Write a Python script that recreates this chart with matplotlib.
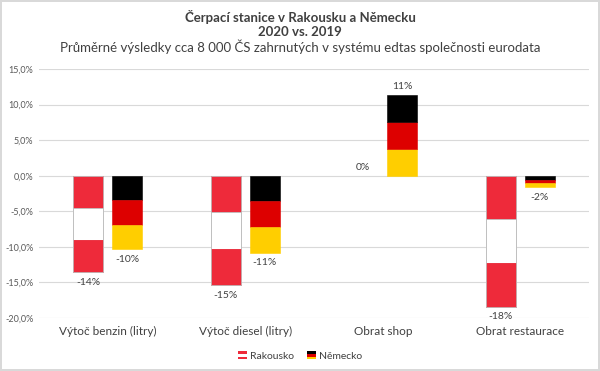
import matplotlib
matplotlib.use("Agg")
import matplotlib.pyplot as plt
from matplotlib.patches import Rectangle
from matplotlib.legend_handler import HandlerBase
from matplotlib.ticker import FuncFormatter
import numpy as np

plt.rcParams["font.family"] = ["Lato", "DejaVu Sans"]

# -----------------------------------------------------------------------------
# data
# -----------------------------------------------------------------------------
categories = ["Výtoč benzin (litry)", "Výtoč diesel (litry)", "Obrat shop", "Obrat restaurace"]
rakousko = [-13.6, -15.4, 0.0, -18.4]
nemecko = [-10.3, -10.8, 11.3, -1.6]
labels_at = ["-14%", "-15%", "0%", "-18%"]
labels_de = ["-10%", "-11%", "11%", "-2%"]

AT_RED = "#EE2A3A"
DE_BLACK = "#000000"
DE_RED = "#DD0000"
DE_GOLD = "#FFCE00"
GRID = "#D9D9D9"
TXT = "#404040"

fig = plt.figure(figsize=(6, 3.71), dpi=100)
fig.patch.set_edgecolor("#D9D9D9")
fig.patch.set_linewidth(1.5)
ax = fig.add_axes([39 / 600, 1 - 318 / 371, 550 / 600, (318 - 69) / 371])

x = np.arange(len(categories))
width = 0.22
off = 0.142

for i in range(len(categories)):
    # Rakousko: red / white / red, in thirds
    v = rakousko[i]
    third = v / 3
    if v != 0:
        for k, col in enumerate([AT_RED, "white", AT_RED]):
            ax.bar(x[i] - off, third, width, bottom=k * third, color=col,
                   edgecolor="#BFBFBF" if col == "white" else AT_RED, linewidth=0.6, zorder=3)
        ax.add_patch(Rectangle((x[i] - off - width / 2, 0), width, v, fill=False,
                               edgecolor="#BFBFBF", linewidth=0.6, zorder=4))
    # Německo: black on top, gold at bottom
    v = nemecko[i]
    third = v / 3
    order = [DE_BLACK, DE_RED, DE_GOLD] if v < 0 else [DE_GOLD, DE_RED, DE_BLACK]
    for k, col in enumerate(order):
        ax.bar(x[i] + off, third, width, bottom=k * third, color=col,
               edgecolor=col, linewidth=0.4, zorder=3)

    # labels
    for xv, val, lab in [(x[i] - off, rakousko[i], labels_at[i]), (x[i] + off, nemecko[i], labels_de[i])]:
        if val < 0:
            ax.annotate(lab, (xv, val), xytext=(0, -4), textcoords="offset points",
                        ha="center", va="top", fontsize=7.5, color=TXT)
        else:
            ax.annotate(lab, (xv, val), xytext=(0, 3), textcoords="offset points",
                        ha="center", va="bottom", fontsize=7.5, color=TXT)

ax.set_xlim(-0.5, 3.5)
ax.set_ylim(-20, 15)
ax.set_yticks(np.arange(-20, 16, 5))
ax.yaxis.set_major_formatter(FuncFormatter(lambda v, p: f"{v:.1f}%".replace(".", ",")))
ax.set_xticks(x)
ax.set_xticklabels(categories, fontsize=8.5, color=TXT)
ax.tick_params(axis="y", labelsize=6.5, labelcolor="#595959", length=0, pad=4)
ax.tick_params(axis="x", length=0, pad=6)
ax.grid(axis="y", color=GRID, linewidth=0.8, zorder=0)
for s in ax.spines.values():
    s.set_visible(False)


# legend handles: little flags
class FlagHandler(HandlerBase):
    def __init__(self, colors):
        super().__init__()
        self.colors = colors

    def create_artists(self, legend, orig_handle, xdescent, ydescent, width, height, fontsize, trans):
        w = height * 1.1
        x0 = width - w
        h = height / 3
        arts = []
        for k, c in enumerate(self.colors):
            r = Rectangle((x0 - xdescent, -ydescent + height - (k + 1) * h), w, h,
                          facecolor=c, edgecolor="none", transform=trans)
            arts.append(r)
        return arts


h_at = Rectangle((0, 0), 1, 1)
h_de = Rectangle((0, 0), 1, 1)
fig.legend([h_at, h_de], ["Rakousko", "Německo"],
           handler_map={h_at: FlagHandler([AT_RED, "white", AT_RED]),
                        h_de: FlagHandler([DE_BLACK, DE_RED, DE_GOLD])},
           loc="center", bbox_to_anchor=(0.5, 1 - 356 / 371), ncol=2, frameon=False,
           fontsize=7.5, handlelength=0.9, handleheight=0.8, handletextpad=0.3,
           columnspacing=1.2, labelcolor=TXT)

fig.text(0.5, 1 - 17 / 371, "Čerpací stanice v Rakousku a Německu", ha="center", va="center",
         fontsize=9.5, fontweight="bold", color=TXT)
fig.text(0.5, 1 - 32 / 371, "2020 vs. 2019", ha="center", va="center",
         fontsize=9.5, fontweight="bold", color=TXT)
fig.text(0.5, 1 - 47 / 371, "Průměrné výsledky cca 8 000 ČS zahrnutých v systému edtas společnosti eurodata",
         ha="center", va="center", fontsize=9.5, color=TXT)

fig.savefig("out.png", dpi=100)
